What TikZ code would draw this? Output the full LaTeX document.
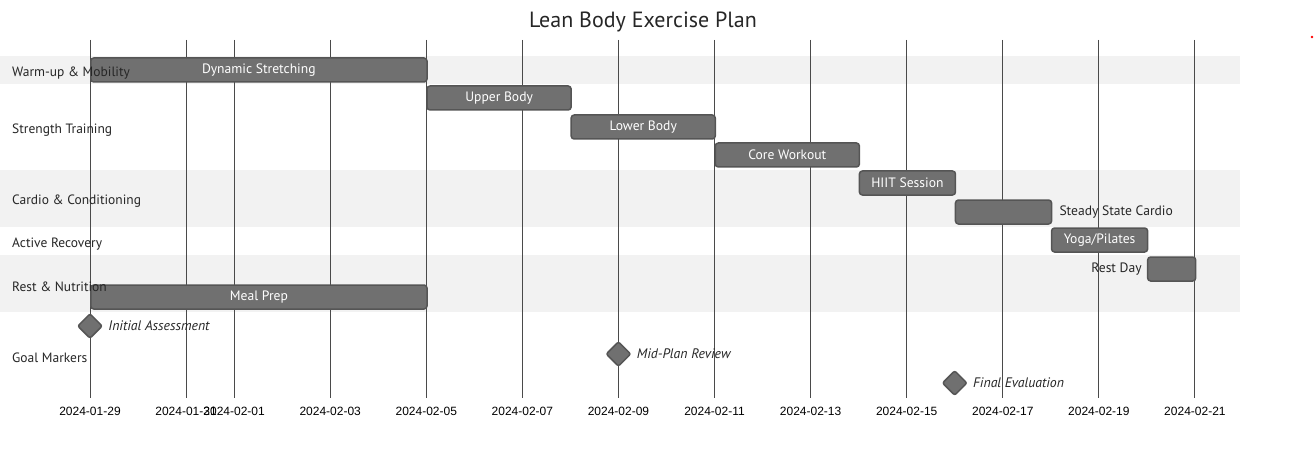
\documentclass[tikz,border=0pt]{standalone}
\usepackage{fontspec}
\setmainfont{PT Sans}
\newfontfamily\tickfont{Liberation Sans}
\usetikzlibrary{positioning,shapes.geometric}

\definecolor{barfill}{HTML}{707070}
\definecolor{barline}{HTML}{555555}
\definecolor{bandgrey}{HTML}{F2F2F2}
\definecolor{gridgrey}{HTML}{4A4A4A}
\definecolor{textdark}{HTML}{262626}
\newcommand{\dx}{48.04}

\begin{document}
\begin{tikzpicture}[x=1pt,y=-1pt,
    band/.style={fill=bandgrey},
    gridline/.style={draw=gridgrey, line width=0.9pt},
    tick/.style={font=\tickfont\fontsize{12}{14}\selectfont, text=black, inner sep=0pt},
    bar/.style={draw=barline, line width=1.5pt, fill=barfill, rounded corners=3pt,
        minimum height=24pt, inner sep=0pt, anchor=west, text=white,
        font=\fontsize{13.6}{15}\selectfont},
    outlabel/.style={inner sep=0pt, text=textdark, font=\fontsize{13.6}{15}\selectfont},
    mile/.style={diamond, draw=barline, line width=1.5pt, fill=barfill, rounded corners=2pt,
        minimum width=25pt, minimum height=25pt, inner sep=0pt},
    milelabel/.style={inner sep=0pt, text=textdark, font=\itshape\fontsize{13.8}{15}\selectfont},
    section/.style={inner sep=0pt, anchor=west, text=textdark, font=\fontsize{13.5}{15}\selectfont}]
    \useasboundingbox (0,0) rectangle (1316,457);

    % section bands
    \fill[band] (0,56) rectangle (1240,84);
    \fill[band] (0,170) rectangle (1240,227);
    \fill[band] (0,255) rectangle (1240,312);

    % grid and dates
    \foreach \d/\lbl in {0/2024-01-29, 2/2024-01-31, 3/2024-02-01, 5/2024-02-03,
        7/2024-02-05, 9/2024-02-07, 11/2024-02-09, 13/2024-02-11, 15/2024-02-13,
        17/2024-02-15, 19/2024-02-17, 21/2024-02-19, 23/2024-02-21} {
        \draw[gridline] ({90+\d*\dx},40) -- ({90+\d*\dx},398);
        \node[tick] (t\d) at ({90+\d*\dx},411) {\lbl};
    }

    % tasks
    \node[bar, minimum width={7*\dx}] (stretch) at (90,70) {Dynamic Stretching};
    \node[bar, minimum width={3*\dx}] (upper) at ({90+7*\dx},98) {Upper Body};
    \node[bar, minimum width={3*\dx}] (lower) at ({90+10*\dx},127) {Lower Body};
    \node[bar, minimum width={3*\dx}] (core) at ({90+13*\dx},155) {Core Workout};
    \node[bar, minimum width={2*\dx}] (hiit) at ({90+16*\dx},183) {HIIT Session};
    \node[bar, minimum width={2*\dx}] (steady) at ({90+18*\dx},212) {};
    \node[outlabel, right=7pt of steady] (steadytxt) {Steady State Cardio};
    \node[bar, minimum width={2*\dx}] (yoga) at ({90+20*\dx},240) {Yoga/Pilates};
    \node[bar, minimum width={1*\dx}] (rest) at ({90+22*\dx},269) {};
    \node[outlabel, left=5pt of rest] (resttxt) {Rest Day};
    \node[bar, minimum width={7*\dx}] (meal) at (90,297) {Meal Prep};

    % milestones
    \node[mile] (init) at (90,326) {};
    \node[milelabel, right=5pt of init] (inittxt) {Initial Assessment};
    \node[mile] (mid) at ({90+11*\dx},354) {};
    \node[milelabel, right=5pt of mid] (midtxt) {Mid-Plan Review};
    \node[mile] (final) at ({90+18*\dx},383) {};
    \node[milelabel, right=5pt of final] (finaltxt) {Final Evaluation};

    % sections
    \node[section] (warm) at (12,73) {Warm-up \& Mobility};
    \node[section] (strength) at (12,130) {Strength Training};
    \node[section] (cardio) at (12,201) {Cardio \& Conditioning};
    \node[section] (active) at (12,244) {Active Recovery};
    \node[section] (nutri) at (12,287) {Rest \& Nutrition};
    \node[section] (goals) at (12,358) {Goal Markers};

    \node[text=textdark, font=\fontsize{22}{26}\selectfont] (title) at (643,22) {Lean Body Exercise Plan};
    \fill[red] (1312,37) circle (1.3pt);
\end{tikzpicture}
\end{document}
